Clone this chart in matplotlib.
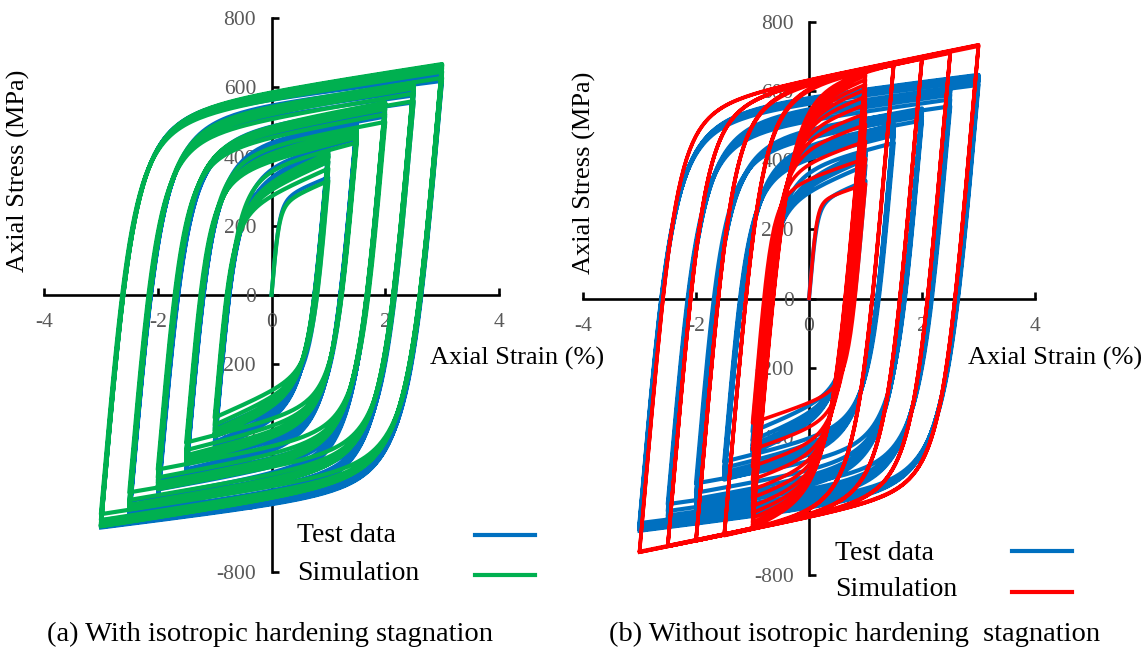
import numpy as np
import matplotlib
matplotlib.use("Agg")
import matplotlib.pyplot as plt
from matplotlib.lines import Line2D

plt.rcParams['font.family'] = ['Liberation Serif', 'DejaVu Serif']
plt.rcParams['axes.unicode_minus'] = False

# strain amplitude of each loading step (%)
amplitudes = [1.0, 1.5, 2.0, 2.5, 3.0]

# test data: peak stress (MPa) of every cycle, at +amplitude and at -amplitude
test_tension = [[340, 385, 402, 414, 421, 426],
                [450, 472, 484, 492, 498, 503],
                [515, 528, 537, 543, 547, 550],
                [556, 576, 589, 598, 603, 607],
                [618, 630, 637, 642, 645, 647]]
test_compression = [[-385, -410, -424, -434, -441, -446],
                    [-472, -490, -503, -512, -519, -524],
                    [-535, -562, -580, -593, -602, -610],
                    [-595, -615, -628, -637, -643, -648],
                    [-650, -658, -663, -667, -670, -672]]
test_slope = [65, 38, 28, 22, 20]      # plastic slope of the branches (MPa/%)

# (a) simulation with isotropic hardening stagnation
sim_a_tension = [[330, 365, 385, 398, 405, 410],
                 [440, 455, 465, 472, 477, 480],
                 [500, 522, 537, 547, 553, 556],
                 [560, 582, 597, 606, 611, 613],
                 [627, 645, 656, 662, 665, 667]]
sim_a_compression = [[-354, -375, -390, -400, -405, -409],
                     [-426, -448, -463, -473, -480, -484],
                     [-504, -527, -542, -552, -558, -561],
                     [-570, -592, -606, -614, -618, -619],
                     [-633, -650, -660, -665, -667, -668]]
sim_a_slope = [70, 40, 30, 27, 25]

# (b) simulation without isotropic hardening stagnation
sim_b_tension = [[331, 405, 455, 503, 535, 561, 584, 604, 619, 633, 645, 652],
                 [676, 680, 682],
                 [694, 696, 697],
                 [710, 712, 713],
                 [730, 733, 734]]
sim_b_compression = [[-360, -437, -486, -524, -553, -576, -601, -620, -635, -647, -656, -662],
                     [-683, -685, -686],
                     [-699, -701, -701],
                     [-715, -717, -717],
                     [-732, -734, -734]]
sim_b_slope = [55, 33, 33, 33, 33]

E_MOD = 1850.0  # elastic slope, MPa per % strain


def branch(e0, s0, e1, s1, h, r, n=90):
    # Menegotto-Pinto type branch from reversal point (e0, s0) to (e1, s1)
    de_tot = abs(e1 - e0)
    ds_tot = abs(s1 - s0)
    ey = (ds_tot - h * de_tot) / (E_MOD - h)
    sy = E_MOD * ey
    b = h / E_MOD
    de = de_tot * np.linspace(0, 1, n) ** 1.6
    x = de / ey
    ds = sy * (b * x + (1 - b) * x / (1 + x ** r) ** (1 / r))
    ds *= ds_tot / ds[-1]
    sgn = np.sign(e1 - e0)
    return e0 + sgn * de, s0 + sgn * ds


def history(tension, compression, slopes, r):
    xs, ys = [0.0], [0.0]
    e, s = 0.0, 0.0
    for amp, ts, cs, h in zip(amplitudes, tension, compression, slopes):
        for t, c in zip(ts, cs):
            for e1, s1 in [(amp, t), (-amp, c)]:
                bx, by = branch(e, s, e1, s1, h, r)
                xs.extend(bx[1:])
                ys.extend(by[1:])
                e, s = e1, s1
    return np.array(xs), np.array(ys)


BLUE = '#0070C0'
GREEN = '#00B050'
RED = '#FF0000'
GRAY = '#595959'

fig = plt.figure(figsize=(11.47, 6.49), dpi=100)
W, H = 1147, 649


def px(x, y):
    return x / W, 1 - y / H


ax1 = fig.add_axes([44 / W, 77 / H, 455 / W, 554 / H])
ax2 = fig.add_axes([583 / W, 74 / H, 452 / W, 553 / H])

tx, ty = history(test_tension, test_compression, test_slope, 2.6)
ax, ay = history(sim_a_tension, sim_a_compression, sim_a_slope, 2.6)
bx, by = history(sim_b_tension, sim_b_compression, sim_b_slope, 3.3)

ax1.plot(tx, ty, color=BLUE, lw=2.8, solid_joinstyle='round')
ax1.plot(ax, ay, color=GREEN, lw=3.0, solid_joinstyle='round')
ax2.plot(tx, ty, color=BLUE, lw=3.0, solid_joinstyle='round')
ax2.plot(bx, by, color=RED, lw=2.6, solid_joinstyle='round')

for a in (ax1, ax2):
    a.set_xlim(-4, 4)
    a.set_ylim(-800, 800)
    a.set_xticks([-4, -2, 0, 2, 4])
    a.set_yticks(np.arange(-800, 801, 200))
    for side in ('top', 'right'):
        a.spines[side].set_visible(False)
    a.spines['left'].set_position('zero')
    a.spines['bottom'].set_position('zero')
    for side in ('left', 'bottom'):
        a.spines[side].set_linewidth(1.9)
        a.spines[side].set_zorder(1)
    a.tick_params(direction='in', length=5, width=1.9, labelsize=15.5,
                  labelcolor=GRAY, pad=11)
    a.tick_params(axis='x', pad=13)
    a.patch.set_visible(False)

# axis titles
fig.text(*px(18, 171), 'Axial Stress (MPa)', rotation=90, ha='center', va='center', fontsize=19)
fig.text(*px(584, 173), 'Axial Stress (MPa)', rotation=90, ha='center', va='center', fontsize=19)
fig.text(*px(430, 358), 'Axial Strain (%)', ha='left', va='center', fontsize=19)
fig.text(*px(968, 358), 'Axial Strain (%)', ha='left', va='center', fontsize=19)

# legends
fig.text(*px(297, 536), 'Test data', ha='left', va='center', fontsize=20)
fig.text(*px(297, 573), 'Simulation', ha='left', va='center', fontsize=20)
fig.add_artist(Line2D([475 / W, 535 / W], [1 - 535 / H] * 2, color=BLUE, lw=3))
fig.add_artist(Line2D([475 / W, 535 / W], [1 - 575 / H] * 2, color=GREEN, lw=3))
fig.text(*px(835, 553), 'Test data', ha='left', va='center', fontsize=20)
fig.text(*px(835, 590), 'Simulation', ha='left', va='center', fontsize=20)
fig.add_artist(Line2D([1012 / W, 1072 / W], [1 - 551 / H] * 2, color=BLUE, lw=3))
fig.add_artist(Line2D([1012 / W, 1072 / W], [1 - 592 / H] * 2, color=RED, lw=3))

# captions
fig.text(*px(270, 634), '(a) With isotropic hardening stagnation', ha='center', va='center', fontsize=20.5)
fig.text(*px(855, 634), '(b) Without isotropic hardening  stagnation', ha='center', va='center', fontsize=20.5)

fig.savefig('out.png', dpi=100)
